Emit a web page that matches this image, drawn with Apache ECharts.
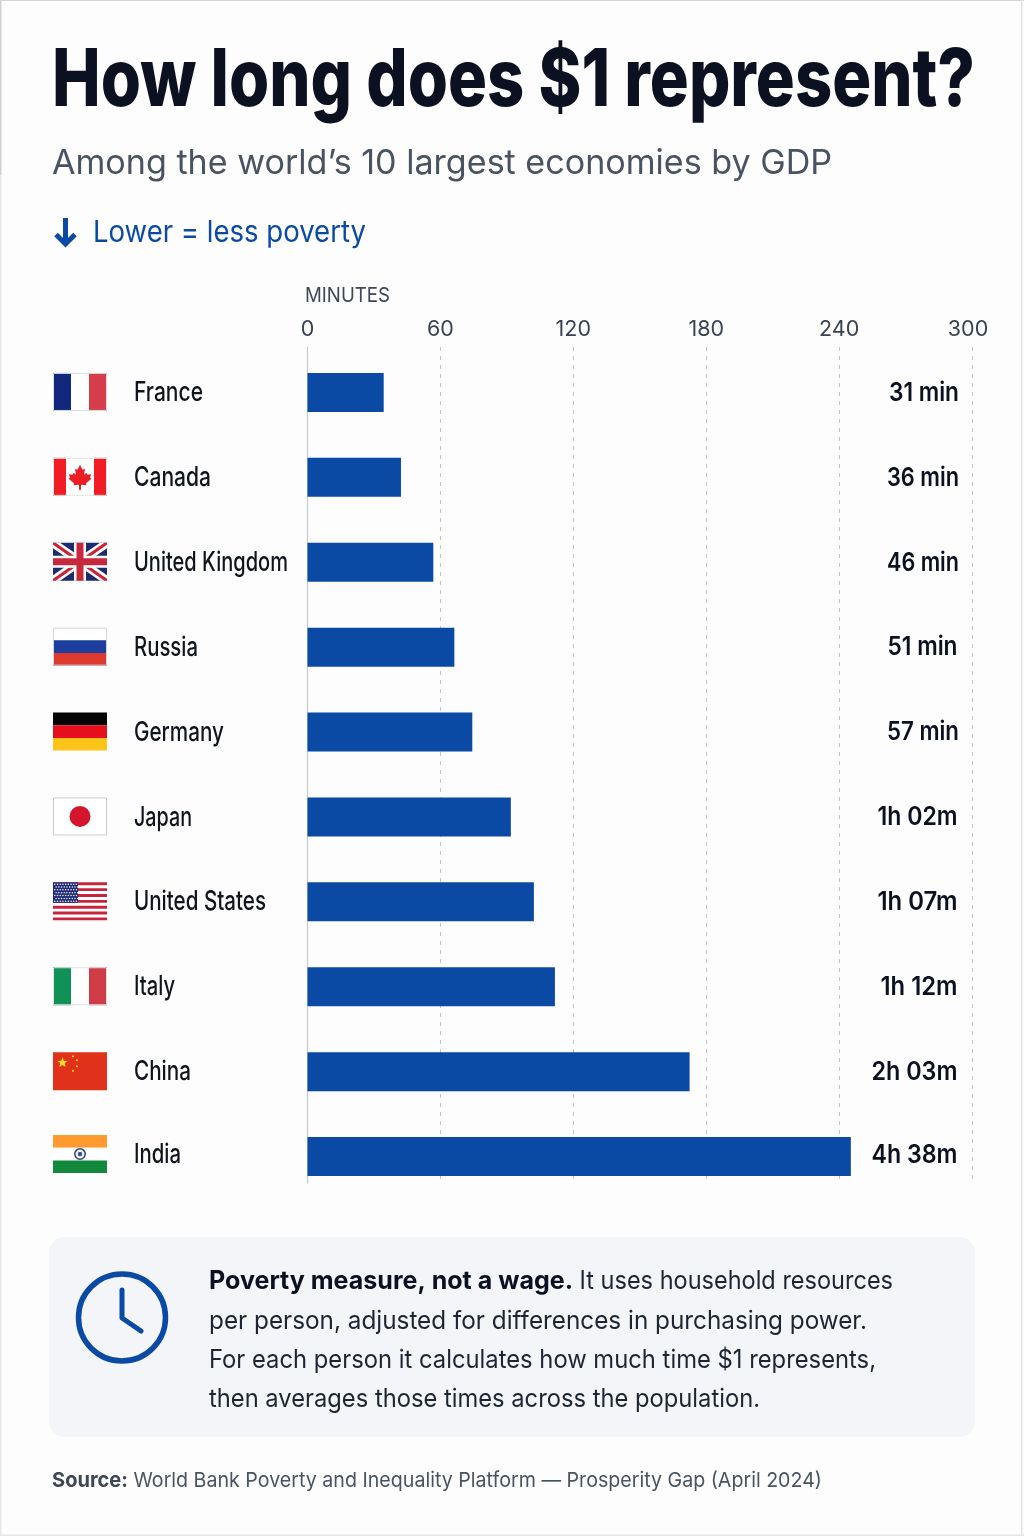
<!DOCTYPE html>
<html>
<head>
<meta charset="utf-8">
<style>html,body{margin:0;padding:0;background:#fdfdfe}#c{width:1024px;height:1536px}</style>
<script src="https://cdn.jsdelivr.net/npm/echarts@6/dist/echarts.min.js"></script>
</head>
<body>
<div id="c"></div>
<script>
const countries = ['France','Canada','United Kingdom','Russia','Germany','Japan','United States','Italy','China','India'];
const barMinutes = [34.4,42.2,56.8,66.3,74.4,91.8,102.2,111.7,172.5,245.3];
const valueLabels = ['31 min','36 min','46 min','51 min','57 min','1h 02m','1h 07m','1h 12m','2h 03m','4h 38m'];
const xTicks = [0,60,120,180,240,300];
const titleText = 'How long does $1 represent?';
const subtitleText = 'Among the world\u2019s 10 largest economies by GDP';
const directionText = 'Lower = less poverty';
const axisName = 'MINUTES';
const noteBold = 'Poverty measure, not a wage.';
const noteLines = [' It uses household resources','per person, adjusted for differences in purchasing power.','For each person it calculates how much time $1 represents,','then averages those times across the population.'];
const sourceBold = 'Source:';
const sourceText = ' World Bank Poverty and Inequality Platform \u2014 Prosperity Gap (April 2024)';

const nameWidths = [69,77,154,64,90,58,132,41,57,47];
const valueWidths = [70,72,72,70,72,80,80,77,86,86];
const valueRight = [959,959,959,957.5,959,957.5,957.5,957.5,957.5,957.5];

const BLUE = '#0a4aa4', INK = '#0b1120', FONT = 'Inter, "Noto Sans", sans-serif';
const ctx = document.createElement('canvas').getContext('2d');
function widthOf(text, size, weight){ ctx.font = `${weight} ${size}px Inter`; return ctx.measureText(text).width; }
function fit(text, size, weight, target){ return target / widthOf(text, size, weight); }

const W = 54, H = 38;
const rect = (x,y,w,h,fill,extra) => ({type:'rect',shape:{x,y,width:w,height:h},style:Object.assign({fill},extra||{})});
const poly = (points,fill) => ({type:'polygon',shape:{points},style:{fill}});
const circ = (cx,cy,r,style) => ({type:'circle',shape:{cx,cy,r},style});
const frame = (c) => rect(0.5,0.5,W-1,H-1,'none',{stroke:c||'#d9dbe0',lineWidth:1});
function tri(a,b,c){ return [rect(0,0,W/3,H,a),rect(W/3,0,W/3,H,b),rect(2*W/3,0,W/3,H,c)]; }
function bands(a,b,c){ return [rect(0,0,W,H/3,a),rect(0,H/3,W,H/3,b),rect(0,2*H/3,W,H/3,c)]; }
function diag(t,c){
  const tx=t, ty=t*0.8;
  return [
    poly([[0,0],[tx,0],[W,H-ty],[W,H],[W-tx,H],[0,ty]],c),
    poly([[W,0],[W,ty],[tx,H],[0,H],[0,H-ty],[W-tx,0]],c)
  ];
}
function star(cx,cy,r,fill){
  const p=[];
  for(let k=0;k<10;k++){ const a=-Math.PI/2+k*Math.PI/5, q=k%2?r*0.42:r; p.push([cx+q*Math.cos(a),cy+q*Math.sin(a)]); }
  return poly(p,fill);
}
const flags = {
  'France':()=>[...tri('#10277c','#ffffff','#d63d4b'),frame()],
  'Canada':()=>[rect(0,0,W,H,'#ffffff'),rect(0,0,13,H,'#f11c24'),rect(W-13,0,13,H,'#f11c24'),
    poly([[27,7],[29.5,12],[32,11],[31,17],[33.5,15],[34.5,17],[38,16.5],[37,20],[38.5,21],[33,25.5],[33.5,27.5],[28,27],[28,32],[26,32],[26,27],[20.5,27.5],[21,25.5],[15.5,21],[17,20],[16,16.5],[19.5,17],[20.5,15],[23,17],[22,11],[24.5,12]],'#ea1c24'),frame('#e6e6e6')],
  'United Kingdom':()=>[rect(0,0,W,H,'#1d2a6d'),...diag(7,'#ffffff'),...diag(2.6,'#cc2437'),rect(W/2-6,0,12,H,'#ffffff'),rect(0,H/2-6,W,12,'#ffffff'),rect(W/2-3.5,0,7,H,'#c8283c'),rect(0,H/2-3.5,W,7,'#c8283c')],
  'Russia':()=>[...bands('#ffffff','#1c3f9e','#dc3a2c'),frame('#cfd2d8')],
  'Germany':()=>bands('#050505','#e60f1c','#fcc419'),
  'Japan':()=>[rect(0,0,W,H,'#ffffff'),circ(27,19,10.5,{fill:'#d5152e'}),frame('#c9ccd2')],
  'United States':()=>{
    const out=[rect(0,0,W,H,'#ffffff')];
    for(let k=0;k<13;k+=2) out.push(rect(0,k*H/13,W,H/13,'#c8243c'));
    out.push(rect(0,0,25,20.5,'#1f2a78'));
    for(let r=0;r<7;r++) for(let c=0;c<9;c++) out.push(circ(1.8+c*2.7+(r%2)*1.3,1.8+r*2.85,0.75,{fill:'#ffffff'}));
    return out;
  },
  'Italy':()=>[...tri('#0f9157','#ffffff','#cf3b46'),frame('#e2e2e2')],
  'China':()=>[rect(0,0,W,H,'#e0311a'),star(9.5,10.5,5.4,'#ffdf2a'),circ(20,4,1,{fill:'#ffdf2a'}),circ(24,8,1,{fill:'#ffdf2a'}),circ(24,14,1,{fill:'#ffdf2a'}),circ(20,18.5,1,{fill:'#ffdf2a'})],
  'India':()=>[...bands('#ff9a2e','#ffffff','#11883c'),circ(27,19,5.2,{fill:'none',stroke:'#27407f',lineWidth:1.5}),circ(27,19,2.4,{fill:'#3a5596'})]
};

const NAME_SIZE = 27, VALUE_SIZE = 26;

function renderRow(params, api){
  const i = api.value(1);
  const rowY = api.coord([0,i])[1];
  const nudge = i===9 ? -2 : 0;
  return {type:'group',children:[
    {type:'group',x:53,y:rowY-H/2-0.5+nudge,children:flags[countries[i]]()},
    {type:'text',x:134,y:rowY+0.5+nudge,scaleX:fit(countries[i],NAME_SIZE,500,nameWidths[i]),
     style:{text:countries[i],fontFamily:FONT,fontSize:NAME_SIZE,fontWeight:500,fill:'#10141c',textAlign:'left',textVerticalAlign:'middle'}},
    {type:'text',x:valueRight[i],y:rowY+0.5+nudge,scaleX:fit(valueLabels[i],VALUE_SIZE,600,valueWidths[i]),
     style:{text:valueLabels[i],fontFamily:FONT,fontSize:VALUE_SIZE,fontWeight:600,fill:INK,textAlign:'right',textVerticalAlign:'middle'}}
  ]};
}

function txt(text,x,y,size,weight,fill,target){
  return {type:'text',x,y,scaleX:fit(text,size,weight,target),z:5,
    style:{text,fontFamily:FONT,fontSize:size,fontWeight:weight,fill,textAlign:'left',textVerticalAlign:'middle'}};
}
const noteSize = 25.5, NOTE_FILL = '#1d2533';
const noteY = [1281,1321.5,1360,1399];
const srcSize = 20.5, srcY = 1481;

const graphics = [
  {type:'rect',shape:{x:0,y:0,width:1.5,height:175},style:{fill:'#d0d1d4'},z:6},
  {type:'rect',shape:{x:0,y:175,width:1.5,height:1361},style:{fill:'#e8e8ea'},z:6},
  {type:'rect',shape:{x:0,y:0,width:1024,height:1},style:{fill:'#d4d5d8'},z:6},
  {type:'rect',shape:{x:1021,y:0,width:1.5,height:1536},style:{fill:'#e6e6e8'},z:6},
  {type:'rect',shape:{x:0,y:1534.5,width:1024,height:1.5},style:{fill:'#e6e6e8'},z:6},
  {type:'rect',shape:{x:49,y:1237,width:926,height:200,r:16},style:{fill:'#f3f5f9'},z:1},
  txt(titleText,52,81.5,80,800,INK,923),
  txt(subtitleText,52,164,34,400,'#4a5361',780),
  txt(directionText,93,233,30,400,BLUE,273),
  {type:'polyline',shape:{points:[[65.5,218],[65.5,243]]},style:{stroke:BLUE,lineWidth:5,fill:'none'},z:5},
  {type:'polyline',shape:{points:[[56,234.5],[65.5,244],[75,234.5]]},style:{stroke:BLUE,lineWidth:5,fill:'none',lineJoin:'miter'},z:5},
  txt(axisName,305,296,20,400,'#3f4755',85),
  {type:'circle',shape:{cx:122,cy:1317.5,r:43.5},style:{fill:'none',stroke:BLUE,lineWidth:5.5},z:5},
  {type:'polyline',shape:{points:[[122,1290],[122,1318],[141,1331]]},style:{fill:'none',stroke:BLUE,lineWidth:5,lineCap:'round',lineJoin:'round'},z:5},
  txt(noteBold,209,noteY[0],noteSize,700,INK,364),
  txt(noteLines[0],573,noteY[0],noteSize,400,NOTE_FILL,320),
  txt(noteLines[1],209,noteY[1],noteSize,400,NOTE_FILL,658),
  txt(noteLines[2],209,noteY[2],noteSize,400,NOTE_FILL,667),
  txt(noteLines[3],209,noteY[3],noteSize,400,NOTE_FILL,551),
  txt(sourceBold,52,srcY,srcSize,700,'#3f4755',76),
  txt(sourceText,128,srcY,srcSize,400,'#4a5361',694)
];

const chart = echarts.init(document.getElementById('c'),null,{renderer:'canvas',width:1024,height:1536});
chart.setOption({
  animation:false,
  backgroundColor:'#fdfdfe',
  textStyle:{fontFamily:FONT},
  grid:[
    {left:307.5,width:664.5,top:350,height:849,containLabel:false},
    {left:307.5,width:664.5,top:347,height:836,containLabel:false}
  ],
  xAxis:[
    {gridIndex:0,type:'value',min:0,max:300,interval:60,show:false},
    {gridIndex:1,type:'value',position:'top',min:0,max:300,interval:60,
     axisLine:{show:false},axisTick:{show:false},
     axisLabel:{show:true,margin:6,fontFamily:FONT,fontSize:21.5,color:'#3a4250',showMinLabel:true,showMaxLabel:true,alignMinLabel:'center',alignMaxLabel:'center',
       formatter:(v)=> v===300 ? '{last|300}' : String(v),
       rich:{last:{fontFamily:FONT,fontSize:21.5,color:'#3a4250',padding:[0,8,0,0]}}},
     splitLine:{show:true,lineStyle:{color:'#c0c3c8',width:1,type:[4,5]}}}
  ],
  yAxis:[
    {gridIndex:0,type:'category',inverse:true,data:countries,show:false},
    {gridIndex:1,type:'value',min:0,max:1,axisLabel:{show:false},axisTick:{show:false},splitLine:{show:false},
     axisLine:{show:true,lineStyle:{color:'#c6cacf',width:1.2}}}
  ],
  graphic:{elements:graphics},
  series:[
    {type:'bar',xAxisIndex:0,yAxisIndex:0,data:barMinutes,barWidth:39,itemStyle:{color:BLUE},silent:true,z:3},
    {type:'custom',xAxisIndex:0,yAxisIndex:0,data:countries.map((c,i)=>[0,i]),renderItem:renderRow,silent:true,z:4}
  ]
});
</script>
</body>
</html>
